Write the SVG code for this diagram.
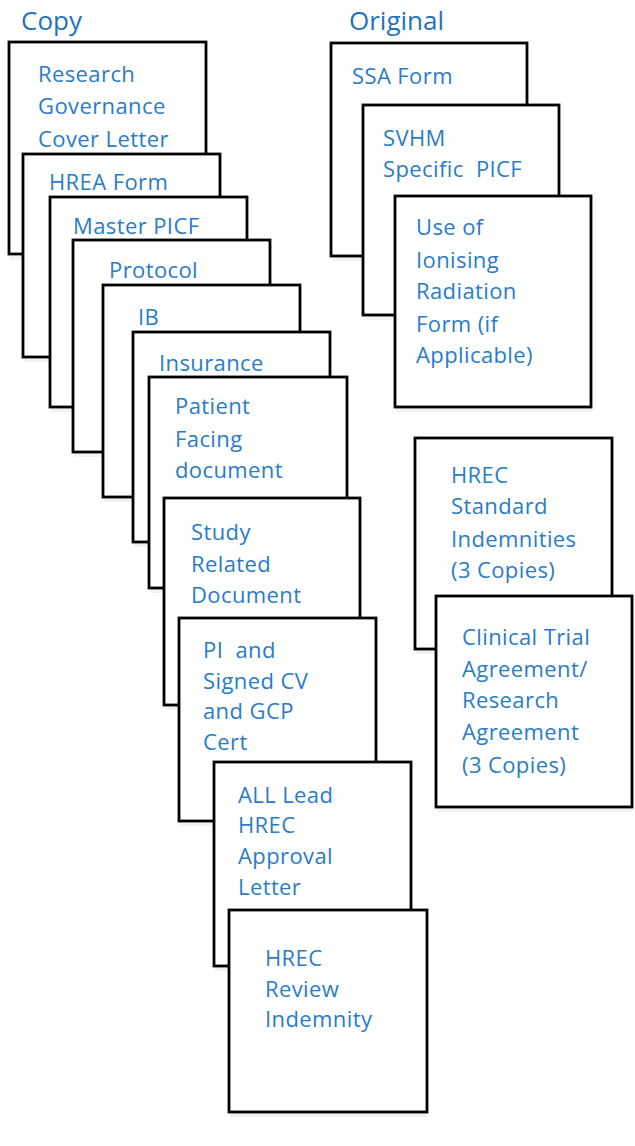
<svg xmlns="http://www.w3.org/2000/svg" width="635" height="1146" viewBox="0 0 635 1146">
<style>
.box{fill:#ffffff;stroke:#000000;stroke-width:2.8}
.sh{fill:#f2f2f2}
.t{font-family:"Open Sans","Liberation Sans",sans-serif;font-size:22px;letter-spacing:0.4px;fill:#2a7cc8}
.h{font-family:"Open Sans","Liberation Sans",sans-serif;font-size:26px;fill:#1f72bd}
</style>
<rect width="635" height="1146" fill="#ffffff"/>
<text class="h" x="21" y="30">Copy</text>
<text class="h" x="349" y="30">Original</text>
<g id="n1"><rect class="sh" x="10" y="256" width="197" height="4"/><rect class="box" x="9" y="42" width="197" height="212"/><text class="t" x="38" y="82">Research</text><text class="t" x="38" y="114">Governance</text><text class="t" x="38" y="147">Cover Letter</text></g>
<g id="n2"><rect class="sh" x="24" y="358" width="197" height="4"/><rect class="box" x="23" y="154" width="197" height="203"/><text class="t" x="49" y="190">HREA Form</text></g>
<g id="n3"><rect class="sh" x="51" y="408" width="197" height="4"/><rect class="box" x="50" y="197" width="197" height="210"/><text class="t" x="73" y="234">Master PICF</text></g>
<g id="n4"><rect class="sh" x="74" y="453" width="197" height="4"/><rect class="box" x="73" y="240" width="197" height="212"/><text class="t" x="109" y="278">Protocol</text></g>
<g id="n5"><rect class="sh" x="104" y="498" width="197" height="4"/><rect class="box" x="103" y="285" width="197" height="212"/><text class="t" x="138" y="325">IB</text></g>
<g id="n6"><rect class="sh" x="134" y="543" width="197" height="4"/><rect class="box" x="133" y="332" width="197" height="210"/><text class="t" x="159" y="371">Insurance</text></g>
<g id="n7"><rect class="sh" x="150" y="589" width="197" height="4"/><rect class="box" x="149" y="377" width="198" height="211"/><text class="t" x="175" y="414">Patient</text><text class="t" x="175" y="447">Facing</text><text class="t" x="175" y="478">document</text></g>
<g id="n8"><rect class="sh" x="165" y="706" width="196" height="4"/><rect class="box" x="164" y="498" width="196" height="207"/><text class="t" x="191" y="540">Study</text><text class="t" x="191" y="572">Related</text><text class="t" x="191" y="603">Document</text></g>
<g id="n9"><rect class="sh" x="180" y="822" width="197" height="4"/><rect class="box" x="179" y="618" width="197" height="203"/><text class="t" x="203" y="658" xml:space="preserve">PI  and</text><text class="t" x="203" y="689">Signed CV</text><text class="t" x="203" y="719">and GCP</text><text class="t" x="203" y="750">Cert</text></g>
<g id="n10"><rect class="sh" x="215" y="967" width="197" height="4"/><rect class="box" x="214" y="762" width="197" height="204"/><text class="t" x="238" y="803">ALL Lead</text><text class="t" x="238" y="833">HREC</text><text class="t" x="238" y="864">Approval</text><text class="t" x="238" y="895">Letter</text></g>
<g id="n11"><rect class="sh" x="230" y="1113" width="198" height="4"/><rect class="box" x="229" y="910" width="198" height="202"/><text class="t" x="265" y="966">HREC</text><text class="t" x="265" y="997">Review</text><text class="t" x="265" y="1027">Indemnity</text></g>
<g id="n12"><rect class="sh" x="332" y="257" width="196" height="4"/><rect class="box" x="331" y="43" width="196" height="213"/><text class="t" x="352" y="84">SSA Form</text></g>
<g id="n13"><rect class="sh" x="364" y="316" width="196" height="4"/><rect class="box" x="363" y="105" width="196" height="210"/><text class="t" x="383" y="146">SVHM</text><text class="t" x="383" y="177" xml:space="preserve">Specific  PICF</text></g>
<g id="n14"><rect class="sh" x="396" y="408" width="196" height="4"/><rect class="box" x="395" y="196" width="196" height="211"/><text class="t" x="416" y="235">Use of</text><text class="t" x="416" y="268">Ionising</text><text class="t" x="416" y="299">Radiation</text><text class="t" x="416" y="332">Form (if</text><text class="t" x="416" y="363">Applicable)</text></g>
<g id="n15"><rect class="sh" x="416" y="650" width="197" height="4"/><rect class="box" x="415" y="438" width="197" height="211"/><text class="t" x="451" y="483">HREC</text><text class="t" x="451" y="514">Standard</text><text class="t" x="451" y="547">Indemnities</text><text class="t" x="451" y="578">(3 Copies)</text></g>
<g id="n16"><rect class="sh" x="437" y="808" width="196" height="4"/><rect class="box" x="436" y="596" width="196" height="211"/><text class="t" x="462" y="645">Clinical Trial</text><text class="t" x="462" y="677">Agreement/</text><text class="t" x="462" y="708">Research</text><text class="t" x="462" y="740">Agreement</text><text class="t" x="462" y="773">(3 Copies)</text></g>
<g id="connectors"></g>
</svg>
